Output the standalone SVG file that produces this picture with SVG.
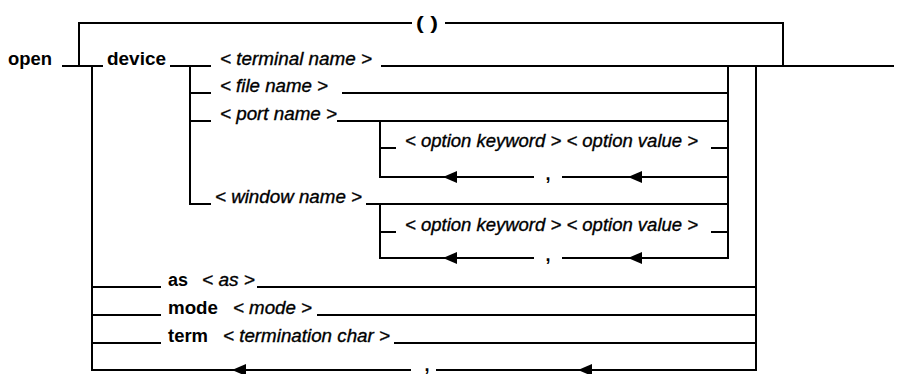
<svg xmlns="http://www.w3.org/2000/svg" width="898" height="374" viewBox="0 0 898 374">
<style>
.ln{stroke:#000;stroke-width:2;fill:none;stroke-linecap:square}
.kw{font-family:"Liberation Sans",Arial,sans-serif;font-weight:bold;font-size:18px;fill:#000}
.ph{font-family:"Liberation Sans",Arial,sans-serif;font-style:italic;font-size:18px;fill:#000;stroke:#000;stroke-width:0.35}
.ah{fill:#000}
</style>
<defs>
<path id="ah" d="M0,0 L14,-6 L14,6 Z"/>
</defs>
<rect width="898" height="374" fill="#fff"/>
<g id="connectors">
<path class="ln" d="M79,66 V23 H411 M446,23 H783 V66"/>
<path class="ln" d="M63,66 H102 M171,66 H210 M382,66 H893"/>
<path class="ln" d="M92,66 V370"/>
<path class="ln" d="M190,66 V204 M190,93 H210 M190,121 H210 M190,204 H210"/>
<path class="ln" d="M343,93 H728 M338,121 H728 M367,204 H728"/>
<path class="ln" d="M728,66 V258 M756,66 V370"/>
<path class="ln" d="M380,121 V177 H533 M563,177 H728 M380,148 H395 M712,148 H728"/>
<path class="ln" d="M380,204 V258 H533 M563,258 H728 M380,232 H395 M712,232 H728"/>
<path class="ln" d="M92,287 H160 M258,287 H756 M92,315 H160 M318,315 H756 M92,343 H160 M395,343 H756"/>
<path class="ln" d="M92,370 H410 M437,370 H756"/>
<use href="#ah" class="ah" x="443" y="177"/>
<use href="#ah" class="ah" x="628" y="177"/>
<use href="#ah" class="ah" x="443" y="258"/>
<use href="#ah" class="ah" x="628" y="258"/>
<use href="#ah" class="ah" x="232" y="370"/>
<use href="#ah" class="ah" x="578" y="370"/>
</g>
<g id="paren"><text class="kw" x="416" y="29" textLength="22" lengthAdjust="spacingAndGlyphs">( )</text></g>
<g id="open"><text class="kw" x="8" y="65" textLength="44" lengthAdjust="spacingAndGlyphs">open</text></g>
<g id="device"><text class="kw" x="107" y="65" textLength="59" lengthAdjust="spacingAndGlyphs">device</text></g>
<g id="terminal"><text class="ph" x="220" y="65" textLength="152" lengthAdjust="spacingAndGlyphs">&lt; terminal name &gt;</text></g>
<g id="file"><text class="ph" x="220" y="92" textLength="108" lengthAdjust="spacingAndGlyphs">&lt; file name &gt;</text></g>
<g id="port"><text class="ph" x="220" y="120" textLength="117" lengthAdjust="spacingAndGlyphs">&lt; port name &gt;</text></g>
<g id="opt1"><text class="ph" x="405" y="147" textLength="293" lengthAdjust="spacingAndGlyphs">&lt; option keyword &gt; &lt; option value &gt;</text></g>
<g id="comma1"><text class="kw" x="548" y="180" text-anchor="middle">,</text></g>
<g id="window"><text class="ph" x="215" y="203" textLength="147" lengthAdjust="spacingAndGlyphs">&lt; window name &gt;</text></g>
<g id="opt2"><text class="ph" x="405" y="231" textLength="293" lengthAdjust="spacingAndGlyphs">&lt; option keyword &gt; &lt; option value &gt;</text></g>
<g id="comma2"><text class="kw" x="548" y="261" text-anchor="middle">,</text></g>
<g id="as"><text class="kw" x="168" y="286" textLength="20" lengthAdjust="spacingAndGlyphs">as</text><text class="ph" x="202" y="286" textLength="53" lengthAdjust="spacingAndGlyphs">&lt; as &gt;</text></g>
<g id="mode"><text class="kw" x="168" y="314" textLength="50" lengthAdjust="spacingAndGlyphs">mode</text><text class="ph" x="233" y="314" textLength="79" lengthAdjust="spacingAndGlyphs">&lt; mode &gt;</text></g>
<g id="term"><text class="kw" x="168" y="342" textLength="40" lengthAdjust="spacingAndGlyphs">term</text><text class="ph" x="223" y="342" textLength="167" lengthAdjust="spacingAndGlyphs">&lt; termination char &gt;</text></g>
<g id="comma3"><text class="kw" x="427" y="371" text-anchor="middle">,</text></g>
</svg>
